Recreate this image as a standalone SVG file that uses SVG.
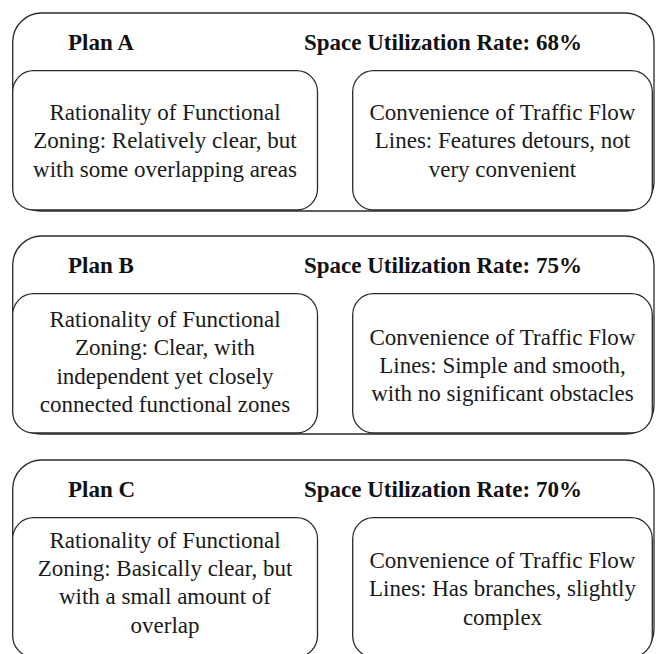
<svg xmlns="http://www.w3.org/2000/svg" width="661" height="654" viewBox="0 0 661 654">
<style>
.outer{fill:#fff;stroke:#2a2a2a;stroke-width:1.3}
.inner{fill:#fff;stroke:#2a2a2a;stroke-width:1.3}
.title{font-family:"Liberation Serif","Times New Roman",serif;font-size:23px;font-weight:bold;fill:#111}
.body{font-family:"Liberation Serif","Times New Roman",serif;font-size:23px;fill:#1a1a1a;text-anchor:middle}
</style>
<rect width="661" height="654" fill="#fff"/>
<g id="planA">
<rect class="outer" x="12.7" y="13" width="641.3" height="198" rx="29" ry="29"/>
<text class="title" x="68" y="50">Plan A</text>
<text class="title" x="304" y="50">Space Utilization Rate: 68%</text>
</g>
<g id="planA-zoning">
<rect class="inner" x="12.7" y="70.7" width="304.8" height="139.3" rx="21" ry="21"/>
<text class="body" x="165" y="120">Rationality of Functional</text>
<text class="body" x="165" y="148.4">Zoning: Relatively clear, but</text>
<text class="body" x="165" y="176.8">with some overlapping areas</text>
</g>
<g id="planA-traffic">
<rect class="inner" x="352.7" y="70.7" width="299.6" height="139.3" rx="21" ry="21"/>
<text class="body" x="502.5" y="120">Convenience of Traffic Flow</text>
<text class="body" x="502.5" y="148.4">Lines: Features detours, not</text>
<text class="body" x="502.5" y="176.8">very convenient</text>
</g>
<g id="planB">
<rect class="outer" x="12.7" y="236" width="641.3" height="198" rx="29" ry="29"/>
<text class="title" x="68" y="273">Plan B</text>
<text class="title" x="304" y="273">Space Utilization Rate: 75%</text>
</g>
<g id="planB-zoning">
<rect class="inner" x="12.7" y="293.7" width="304.8" height="139.3" rx="21" ry="21"/>
<text class="body" x="165" y="327">Rationality of Functional</text>
<text class="body" x="165" y="355.4">Zoning: Clear, with</text>
<text class="body" x="165" y="383.8">independent yet closely</text>
<text class="body" x="165" y="412.2">connected functional zones</text>
</g>
<g id="planB-traffic">
<rect class="inner" x="352.7" y="293.7" width="299.6" height="139.3" rx="21" ry="21"/>
<text class="body" x="502.5" y="344.5">Convenience of Traffic Flow</text>
<text class="body" x="502.5" y="372.9">Lines: Simple and smooth,</text>
<text class="body" x="502.5" y="401.3">with no significant obstacles</text>
</g>
<g id="planC">
<rect class="outer" x="12.7" y="460" width="641.3" height="198" rx="29" ry="29"/>
<text class="title" x="68" y="497">Plan C</text>
<text class="title" x="304" y="497">Space Utilization Rate: 70%</text>
</g>
<g id="planC-zoning">
<rect class="inner" x="12.7" y="517.7" width="304.8" height="139.3" rx="21" ry="21"/>
<text class="body" x="165" y="547.5">Rationality of Functional</text>
<text class="body" x="165" y="575.9">Zoning: Basically clear, but</text>
<text class="body" x="165" y="604.3">with a small amount of</text>
<text class="body" x="165" y="632.7">overlap</text>
</g>
<g id="planC-traffic">
<rect class="inner" x="352.7" y="517.7" width="299.6" height="139.3" rx="21" ry="21"/>
<text class="body" x="502.5" y="568">Convenience of Traffic Flow</text>
<text class="body" x="502.5" y="596.4">Lines: Has branches, slightly</text>
<text class="body" x="502.5" y="624.8">complex</text>
</g>
<g id="connectors"/>
</svg>
